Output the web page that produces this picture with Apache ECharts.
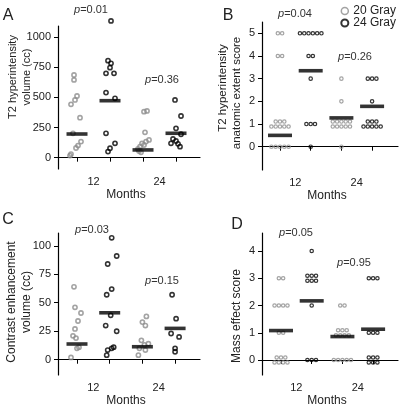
<!DOCTYPE html>
<html><head><meta charset="utf-8">
<script src="https://cdn.jsdelivr.net/npm/echarts@6/dist/echarts.min.js"></script>
<style>html,body{margin:0;padding:0;background:#fff}#c{width:403px;height:408px}</style>
</head><body><div id="c"></div>
<script>
// ---------- tick labels / names ----------
const monthLabels = ['12', '24'];
const groupNames = ['20 Gray', '24 Gray'];
const groupTicks = [1, 2, 3, 4];          // 20Gy-12, 24Gy-12, 20Gy-24, 24Gy-24
const yTicksA = [0, 250, 500, 750, 1000];
const yTicksB = [0, 1, 2, 3, 4, 5];
const yTicksC = [0, 25, 50, 75, 100];
const yTicksD = [0, 1, 2, 3, 4];

// ---------- Panel A: T2 hyperintensity volume (cc) ----------
const A_g20_m12 = [685, 644, 511, 478, 442, 331, 202, 133, 100, 80, 30, 17];
const A_g20_m12_dx = [-3, -3, 0, -2, -6, 3, -4, 4, 1, -1, -6, -7];
const A_g24_m12 = [1133, 804, 782, 746, 699, 699, 539, 492, 202, 119, 78, 50];
const A_g24_m12_dx = [1, -2, 1, 0, -4, 4, -4, 5, -4, 5, 0, -2];
const A_g20_m24 = [387, 381, 210, 147, 133, 119, 105, 91, 72, 55, 45];
const A_g20_m24_dx = [4, 1, 2, 6, 3, -1, 1, -3, -5, -4, -2];
const A_g24_m24 = [478, 345, 243, 194, 155, 138, 119, 115, 91];
const A_g24_m24_dx = [-1, 5, 0, 5, -3, 0, -5, 2, 4];
const A_medians = [196, 472, 64, 202];
const A_pvals = ['0.01', '0.36'];

// ---------- Panel B: anatomic extent score; rows = [score, count, row(-1 upper / 0 / 1 lower)] ----------
const B_g20_m12 = [[5, 2, 0], [4, 2, 0], [1, 3, -1], [1, 5, 1], [0, 5, 0]];
const B_g24_m12 = [[5, 6, 0], [4, 2, 0], [3, 1, 0], [1, 3, 0], [0, 1, 0]];
const B_g20_m24 = [[3, 1, 0], [2, 1, 0], [1, 5, -1], [1, 5, 1], [0, 1, 0]];
const B_g24_m24 = [[3, 3, 0], [2, 1, 0], [1, 3, -1], [1, 5, 1]];
const B_medians = [0.5, 3.35, 1.27, 1.78];
const B_pvals = ['0.04', '0.26'];

// ---------- Panel C: contrast enhancement volume (cc) ----------
const C_g20_m12 = [64, 46, 41, 34, 27, 21, 19, 11, 10, 2];
const C_g20_m12_dx = [-3, -2, 4, 1, -2, -4, -1, 2, 0, -6];
const C_g24_m12 = [107, 91, 84, 62, 57, 39, 30, 25, 11, 10, 8.5, 4];
const C_g24_m12_dx = [2, 7, -2, 2, -3, 1, -4, 7, 4, 2, -2, -3];
const C_g20_m24 = [38, 33, 30, 17, 14, 13, 10, 8.5, 4];
const C_g20_m24_dx = [4, 0, 3, -1, 6, 2, -3, 3, -4];
const C_g24_m24 = [57, 36, 23, 20, 10, 7];
const C_g24_m24_dx = [-3, 1, -4, 4, 0, 0];
const C_medians = [13.8, 41.2, 11.4, 27.5];
const C_pvals = ['0.03', '0.15'];

// ---------- Panel D: mass effect score ----------
const D_g20_m12 = [[3, 2, 0], [2, 4, 0], [1, 2, 0], [0, 3, -1], [0, 4, 1]];
const D_g24_m12 = [[4, 1, 0], [3, 3, -1], [3, 3, 1], [2, 1, 0], [0, 3, 0]];
const D_g20_m24 = [[2, 2, 0], [1, 3, -1], [1, 4, 1], [0, 5, 0]];
const D_g24_m24 = [[3, 3, 0], [1, 3, 0], [0, 3, -1], [0, 3, 1]];
const D_medians = [1.08, 2.17, 0.86, 1.13];
const D_pvals = ['0.05', '0.95'];

// ---------- styling ----------
const GRAY = '#8c8c8c', BLACK = '#000', TXT = '#222';
const FONT = '"Liberation Sans", Arial, sans-serif';
const colors = [GRAY, BLACK];

function jitterSeries(gi, x, vals, dxs, ci) {
  return {
    type: 'scatter', name: groupNames[ci], xAxisIndex: gi, yAxisIndex: gi, clip: false,
    symbol: 'circle', symbolSize: 4.2, z: 2, silent: true,
    itemStyle: { color: 'rgba(255,255,255,0)', borderColor: colors[ci], borderWidth: 1.6 },
    data: vals.map((v, i) => ({ value: [x, v], symbolOffset: [dxs[i], 0] }))
  };
}
function rowSeries(gi, x, rows, ci) {
  const SP = 4.3, RD = 2.5, data = [];
  rows.forEach(([s, n, r]) => {
    for (let k = 0; k < n; k++) data.push({ value: [x, s], symbolOffset: [(k - (n - 1) / 2) * SP, r * RD] });
  });
  return {
    type: 'scatter', name: groupNames[ci], xAxisIndex: gi, yAxisIndex: gi, clip: false,
    symbol: 'circle', symbolSize: 3.4, z: 2, silent: true,
    itemStyle: { color: 'rgba(255,255,255,0)', borderColor: colors[ci], borderWidth: 1.2 },
    data
  };
}
function medianSeries(gi, meds, w) {
  return {
    type: 'scatter', name: 'median', xAxisIndex: gi, yAxisIndex: gi, clip: false,
    symbol: 'rect', symbolSize: [w, 3.6], z: 5, silent: true,
    itemStyle: { color: BLACK },
    data: meds.map((m, i) => [groupTicks[i], m])
  };
}
function xAx(gi, min, max) {
  return {
    type: 'value', gridIndex: gi, min, max,
    axisLine: { lineStyle: { color: BLACK, width: 1.2 } },
    axisTick: { customValues: groupTicks, length: 4, lineStyle: { color: BLACK } },
    axisLabel: { customValues: [1.5, 3.5], formatter: v => (v < 2.5 ? monthLabels[0] : monthLabels[1]),
      margin: 7, fontSize: 11, color: TXT, fontFamily: FONT },
    splitLine: { show: false },
    name: 'Months', nameLocation: 'middle', nameGap: 20,
    nameTextStyle: { fontSize: 12, color: TXT, fontFamily: FONT, padding: [0, 6, 0, 0] }
  };
}
function yAx(gi, min, max, ticks) {
  return {
    type: 'value', gridIndex: gi, min, max,
    axisLine: { show: true, lineStyle: { color: BLACK, width: 1.2 } },
    axisTick: { show: true, customValues: ticks, length: 4, lineStyle: { color: BLACK } },
    axisLabel: { customValues: ticks, formatter: v => String(v), margin: 7, fontSize: 11, color: TXT, fontFamily: FONT },
    splitLine: { show: false }
  };
}
function txt(x, y, s, size, rot) {
  return { type: 'text', x, y, rotation: rot || 0, silent: true,
    style: { text: s, fontSize: size, fontFamily: FONT, fill: TXT, align: 'center', verticalAlign: 'middle' } };
}
function pTxt(x, y, v) {
  return { type: 'text', x, y, silent: true,
    style: { text: '{i|p}=' + v, fontSize: 11, fontFamily: FONT, fill: '#333', align: 'center', verticalAlign: 'middle',
      rich: { i: { fontStyle: 'italic', fontSize: 11, fontFamily: FONT, fill: '#333' } } } };
}

const R = Math.PI / 2;
const option = {
  animation: false,
  backgroundColor: '#fff',
  grid: [
    { left: 58, top: 26, width: 142, height: 143 },
    { left: 262, top: 22, width: 136, height: 148 },
    { left: 58, top: 233, width: 142, height: 142 },
    { left: 262, top: 233, width: 136, height: 142 }
  ],
  xAxis: [xAx(0, 0.424, 4.727), xAx(1, 0.414, 4.844), xAx(2, 0.419, 4.762), xAx(3, 0.381, 4.811)],
  yAxis: [yAx(0, -94, 1091, yTicksA), yAx(1, -1.027, 5.499, yTicksB), yAx(2, -13.4, 111.2, yTicksC), yAx(3, -0.55, 4.66, yTicksD)],
  legend: {
    top: 0, right: 2, orient: 'vertical', itemWidth: 7, itemHeight: 7, itemGap: 0, selectedMode: false,
    textStyle: { fontSize: 12, color: TXT, fontFamily: FONT, lineHeight: 12 },
    data: [
      { name: groupNames[0], icon: 'circle', itemStyle: { color: '#fff', borderColor: GRAY, borderWidth: 1.5 } },
      { name: groupNames[1], icon: 'circle', itemStyle: { color: '#fff', borderColor: BLACK, borderWidth: 2 } }
    ]
  },
  series: [
    jitterSeries(0, 1, A_g20_m12, A_g20_m12_dx, 0),
    jitterSeries(0, 2, A_g24_m12, A_g24_m12_dx, 1),
    jitterSeries(0, 3, A_g20_m24, A_g20_m24_dx, 0),
    jitterSeries(0, 4, A_g24_m24, A_g24_m24_dx, 1),
    medianSeries(0, A_medians, 21),
    rowSeries(1, 1, B_g20_m12, 0),
    rowSeries(1, 2, B_g24_m12, 1),
    rowSeries(1, 3, B_g20_m24, 0),
    rowSeries(1, 4, B_g24_m24, 1),
    medianSeries(1, B_medians, 24),
    jitterSeries(2, 1, C_g20_m12, C_g20_m12_dx, 0),
    jitterSeries(2, 2, C_g24_m12, C_g24_m12_dx, 1),
    jitterSeries(2, 3, C_g20_m24, C_g20_m24_dx, 0),
    jitterSeries(2, 4, C_g24_m24, C_g24_m24_dx, 1),
    medianSeries(2, C_medians, 21),
    rowSeries(3, 1, D_g20_m12, 0),
    rowSeries(3, 2, D_g24_m12, 1),
    rowSeries(3, 3, D_g20_m24, 0),
    rowSeries(3, 4, D_g24_m24, 1),
    medianSeries(3, D_medians, 24)
  ],
  graphic: [
    txt(8, 16, 'A', 16), txt(228, 16, 'B', 16), txt(8, 220, 'C', 16), txt(237, 225, 'D', 16),
    txt(13, 77, 'T2 hyperintensity', 11, R), txt(27, 77, 'volume (cc)', 11, R),
    txt(223, 88, 'T2 hyperintensity', 11.5, R), txt(237, 93, 'anatomic extent score', 11.5, R),
    txt(12, 302, 'Contrast enhancement', 12, R), txt(27, 302, 'volume (cc)', 12, R),
    txt(237, 316, 'Mass effect score', 12, R),
    pTxt(91, 10, A_pvals[0]), pTxt(162, 80, A_pvals[1]),
    pTxt(295, 14, B_pvals[0]), pTxt(355, 57, B_pvals[1]),
    pTxt(92, 230, C_pvals[0]), pTxt(162, 281, C_pvals[1]),
    pTxt(296, 233, D_pvals[0]), pTxt(354, 263, D_pvals[1])
  ]
};
echarts.init(document.getElementById('c'), null, { renderer: 'canvas' }).setOption(option);
</script></body></html>
